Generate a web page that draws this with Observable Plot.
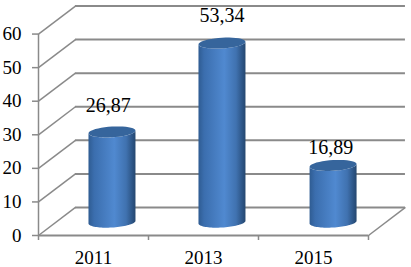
<!DOCTYPE html>
<html><head><meta charset="utf-8">
<script src="https://cdn.jsdelivr.net/npm/d3@7"></script>
<script src="https://cdn.jsdelivr.net/npm/@observablehq/plot@0.6"></script>
<style>html,body{margin:0;padding:0;background:#fff}svg{display:block}</style>
</head><body><div id="chart"></div>
<script>
const years = ["2011", "2013", "2015"];
const values = [26.87, 53.34, 16.89];
const valueLabels = ["26,87", "53,34", "16,89"];
const yTicks = [0, 10, 20, 30, 40, 50, 60];

// 3D projection, in scale units
const depthX = 0.336, depthY = 8.35;
const grey = "#8a8a8a";
const serif = "Liberation Serif";
const rx = 0.2136, ry = 1.6, tilt = 0.4;
const labelLift = [5.9, 6.4, 3.4];
const labelShift = [-0.035, 0, -0.02];
const shift = [0, 0, 0.01];

const cx = i => i + 0.5 + depthX / 2 + shift[i];
const baseY = depthY / 2 - 0.2;
const arc = (i, y, a0, a1, n = 40) => d3.range(n + 1).map(k => {
  const t = a0 + (a1 - a0) * k / n;
  return {series: i, x: cx(i) + rx * Math.cos(t), y: y + ry * Math.sin(t) + tilt * Math.cos(t)};
});
const body = years.flatMap((_, i) => [
  ...arc(i, baseY, 0, -Math.PI),
  ...arc(i, baseY + values[i], -Math.PI, 0)
]);
const lid = years.flatMap((_, i) => arc(i, baseY + values[i], 0, 2 * Math.PI));

const diagonals = yTicks.map(v => ({x1: 0, y1: v, x2: depthX, y2: v + depthY}));
const defs = () => {
  const s = d3.create("svg:defs");
  const g = s.append("linearGradient").attr("id", "cyl").attr("x1", 0).attr("x2", 1).attr("y1", 0).attr("y2", 0);
  [[0, "#2f5c92"], [0.12, "#3b6eae"], [0.55, "#5089d0"], [0.8, "#4072b0"], [0.95, "#2a5180"], [1, "#26486f"]]
    .forEach(([o, c]) => g.append("stop").attr("offset", o).attr("stop-color", c));
  return s.node();
};

const chart = Plot.plot({
  width: 411, height: 267,
  marginLeft: 38, marginRight: 0, marginTop: 0, marginBottom: 32,
  style: {background: "#fff", overflow: "visible"},
  x: {domain: [0, 3.391], axis: null},
  y: {domain: [0, 70], axis: null},
  marks: [
    defs,
    Plot.link(diagonals, {x1: "x1", y1: "y1", x2: "x2", y2: "y2", stroke: grey, strokeWidth: 1.5}),
    Plot.ruleY(yTicks.map(v => v + depthY), {x1: depthX, x2: 3 + depthX, stroke: grey, strokeWidth: 2}),
    Plot.link([{x1: 3, y1: 0, x2: 3 + depthX, y2: depthY}], {x1: "x1", y1: "y1", x2: "x2", y2: "y2", stroke: grey, strokeWidth: 1.5}),
    Plot.ruleX([0], {y1: 0, y2: 60, stroke: grey, strokeWidth: 1.5}),
    Plot.ruleY([0], {x1: 0, x2: 3, stroke: grey, strokeWidth: 2}),
    Plot.axisY({ticks: yTicks, tickSize: 6, tickPadding: 11, stroke: grey, fill: "#000", fontSize: 19, fontFamily: serif, strokeWidth: 1.5, label: null}),
    Plot.axisX({ticks: [0, 1, 2, 3], tickSize: 5, stroke: grey, strokeWidth: 1.5, tickFormat: () => "", label: null}),
    Plot.axisX({ticks: [0.5, 1.5, 2.5], tickSize: 0, tickPadding: 15, fill: "#000", fontSize: 19, fontFamily: serif, tickFormat: d => years[d - 0.5], label: null}),
    Plot.line(body, {x: "x", y: "y", z: "series", stroke: "none", fill: "url(#cyl)"}),
    Plot.line(lid, {x: "x", y: "y", z: "series", stroke: "none", fill: "#36659c"}),
    Plot.text(years.map((_, i) => i), {
      x: i => cx(i) + labelShift[i], y: i => baseY + values[i] + labelLift[i],
      text: i => valueLabels[i], fontSize: 20, fontFamily: serif, fill: "#000", lineAnchor: "bottom"
    })
  ]
});
document.getElementById("chart").appendChild(chart);
</script></body></html>
